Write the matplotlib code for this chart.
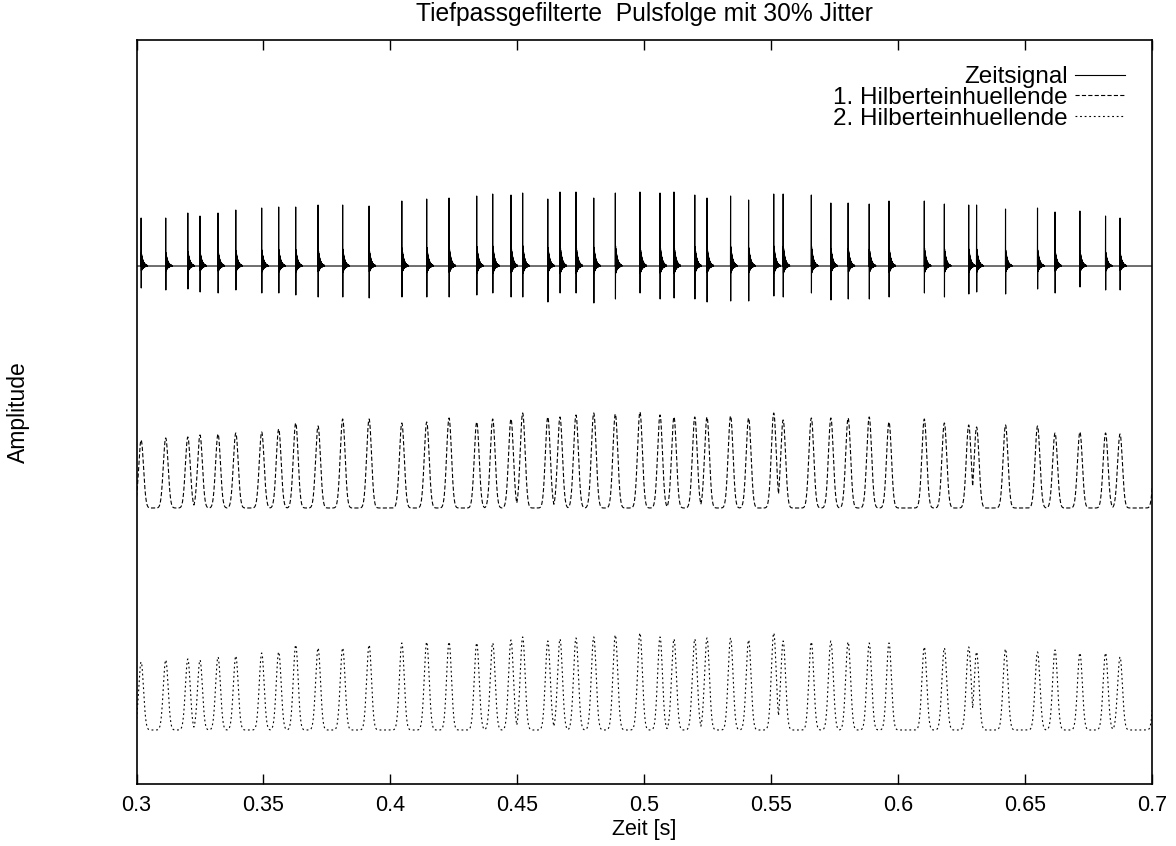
import numpy as np
import matplotlib
matplotlib.use("Agg")
import matplotlib.pyplot as plt

plt.rcParams["font.family"] = ["Liberation Sans", "DejaVu Sans"]
plt.rcParams["lines.scale_dashes"] = False

# pulse times [s] (last one lies just past the axis end)
pulse_t = [
    0.3018, 0.3115, 0.3202, 0.3250, 0.3321, 0.3391, 0.3493, 0.3560, 0.3627, 0.3715,
    0.3812, 0.3916, 0.4045, 0.4143, 0.4231, 0.4340, 0.4403, 0.4475, 0.4521, 0.4620,
    0.4668, 0.4731, 0.4801, 0.4886, 0.4983, 0.5062, 0.5117, 0.5199, 0.5247, 0.5340,
    0.5411, 0.5510, 0.5547, 0.5658, 0.5735, 0.5803, 0.5886, 0.5964, 0.6103, 0.6182,
    0.6278, 0.6309, 0.6423, 0.6549, 0.6618, 0.6716, 0.6817, 0.6874, 0.7016,
]
# positive spike height of the time signal
spike_pos = [
    0.48, 0.48, 0.53, 0.50, 0.53, 0.56, 0.58, 0.59, 0.59, 0.61,
    0.61, 0.60, 0.65, 0.67, 0.68, 0.70, 0.72, 0.71, 0.73, 0.67,
    0.74, 0.74, 0.68, 0.73, 0.74, 0.73, 0.74, 0.71, 0.68, 0.70,
    0.66, 0.72, 0.72, 0.71, 0.63, 0.63, 0.62, 0.65, 0.65, 0.62,
    0.61, 0.61, 0.57, 0.58, 0.54, 0.55, 0.50, 0.48, 0.50,
]
# negative undershoot of the time signal
spike_neg = [
    0.22, 0.24, 0.23, 0.26, 0.27, 0.24, 0.27, 0.27, 0.29, 0.31,
    0.31, 0.32, 0.31, 0.31, 0.31, 0.29, 0.27, 0.31, 0.31, 0.36,
    0.27, 0.27, 0.37, 0.33, 0.27, 0.33, 0.32, 0.33, 0.36, 0.35,
    0.35, 0.30, 0.31, 0.27, 0.34, 0.33, 0.33, 0.31, 0.27, 0.31,
    0.28, 0.26, 0.28, 0.23, 0.27, 0.21, 0.24, 0.24, 0.25,
]
# peak heights of the 1st and 2nd envelope
env1_peak = [
    0.68, 0.70, 0.71, 0.73, 0.74, 0.75, 0.76, 0.79, 0.85, 0.82,
    0.89, 0.89, 0.85, 0.86, 0.90, 0.86, 0.89, 0.89, 0.95, 0.91,
    0.91, 0.93, 0.95, 0.94, 0.96, 0.93, 0.91, 0.91, 0.91, 0.92,
    0.90, 0.95, 0.88, 0.90, 0.90, 0.90, 0.91, 0.86, 0.89, 0.85,
    0.83, 0.81, 0.83, 0.82, 0.75, 0.76, 0.75, 0.74, 0.75,
]
env2_peak = [
    0.68, 0.70, 0.71, 0.70, 0.73, 0.74, 0.77, 0.78, 0.85, 0.82,
    0.82, 0.85, 0.87, 0.88, 0.88, 0.87, 0.87, 0.90, 0.93, 0.89,
    0.91, 0.92, 0.93, 0.95, 0.97, 0.93, 0.91, 0.91, 0.92, 0.92,
    0.90, 0.97, 0.89, 0.88, 0.89, 0.88, 0.87, 0.87, 0.83, 0.82,
    0.83, 0.78, 0.81, 0.78, 0.80, 0.77, 0.77, 0.73, 0.75,
]
env1_offset = -2.42
env2_offset = -4.64

fs = 20000.0
t = np.arange(0.295, 0.705, 1.0 / fs)
sig = np.zeros_like(t)
env1 = np.zeros_like(t)
env2 = np.zeros_like(t)

# ringing after each spike of the lowpass filtered pulse
n = np.arange(50)
ring = ((-1.0) ** n * 0.19 + 0.085) * np.exp(-n / 15.0)
sigma = 0.00095

for tk, a, b, e1, e2 in zip(pulse_t, spike_pos, spike_neg, env1_peak, env2_peak):
    i0 = int(round((tk - t[0]) * fs))
    if i0 + 52 < len(t):
        sig[i0] += a
        sig[i0 + 1] -= b
        sig[i0 + 2:i0 + 52] += a * ring
    bump = np.exp(-0.5 * ((t - tk) / sigma) ** 2)
    env1 = np.maximum(env1, e1 * bump)
    env2 = np.maximum(env2, e2 * bump)

env1 += env1_offset
env2 += env2_offset

fig = plt.figure(figsize=(11.76, 8.46), dpi=100)
ax = fig.add_axes([0.1161, 0.0733, 0.8635, 0.8794])

ax.plot(t, sig, color="black", linewidth=0.8, label="Zeitsignal")
ax.plot(t, env1, color="black", linewidth=0.8, dashes=(3.0, 1.6),
        label="1. Hilberteinhuellende")
ax.plot(t, env2, color="black", linewidth=0.8, dashes=(1.3, 2.0),
        label="2. Hilberteinhuellende")

ax.set_xlim(0.3, 0.7)
ax.set_ylim(-5.18, 2.26)
ax.set_xticks(np.arange(0.3, 0.7001, 0.05))
ax.set_xticklabels(["0.3", "0.35", "0.4", "0.45", "0.5", "0.55", "0.6", "0.65", "0.7"])
ax.set_yticks([])
ax.tick_params(axis="x", direction="in", length=7.2, width=1.0, top=True,
               labelsize=15.5, pad=8)
for sp in ax.spines.values():
    sp.set_linewidth(1.2)

ax.set_title("Tiefpassgefilterte  Pulsfolge mit 30% Jitter", fontsize=17.7, pad=14)
ax.set_xlabel("Zeit [s]", fontsize=15.5, labelpad=2)
ax.set_ylabel("Amplitude", fontsize=16.5)
ax.yaxis.set_label_coords(-0.105, 0.5)

ax.legend(loc="upper right", bbox_to_anchor=(0.9734, 0.965), frameon=False,
          markerfirst=False, fontsize=17.5, handlelength=2.06, handletextpad=0.3,
          labelspacing=-0.05, borderpad=0, borderaxespad=0)

fig.savefig("out.png", dpi=100)
